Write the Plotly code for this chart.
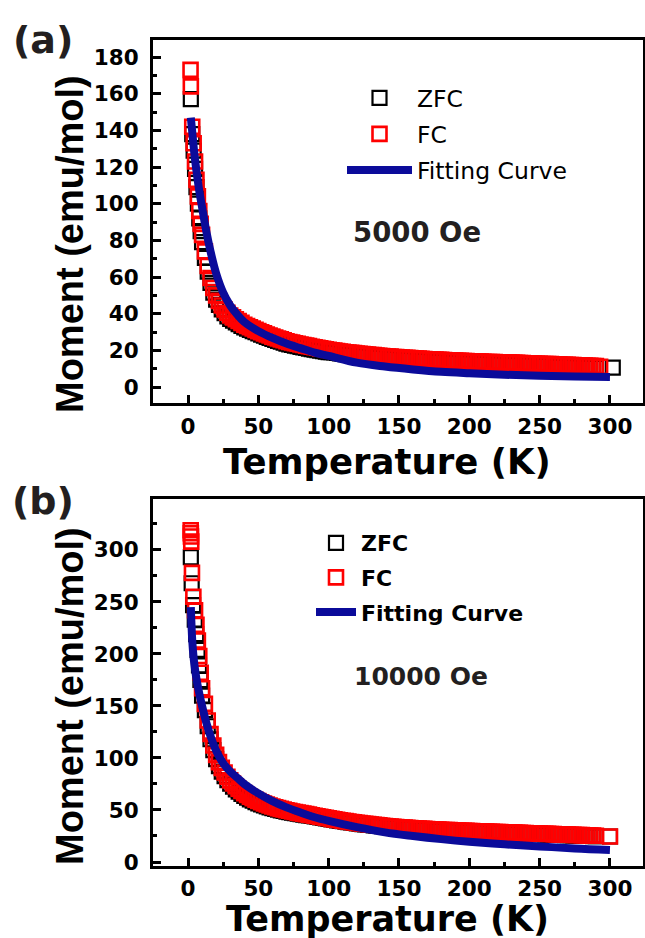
import plotly.graph_objects as go

# ---------------- data ----------------
T_GRID = [12, 14, 16, 18, 20, 22, 24, 26, 28, 30, 32, 34, 36, 38, 40, 42, 44, 46, 48, 50,
          52, 54, 56, 58, 60, 62, 64, 66, 68, 70, 72, 74, 76, 78, 80, 82, 84, 86, 88, 90,
          92, 94, 96, 98, 100, 102, 104, 106, 108, 110, 112, 114, 116, 118, 120, 122, 124, 126, 128, 130,
          132, 134, 136, 138, 140, 142, 144, 146, 148, 150, 152, 154, 156, 158, 160, 162, 164, 166, 168, 170,
          172, 174, 176, 178, 180, 182, 184, 186, 188, 190, 192, 194, 196, 198, 200, 202, 204, 206, 208, 210,
          212, 214, 216, 218, 220, 222, 224, 226, 228, 230, 232, 234, 236, 238, 240, 242, 244, 246, 248, 250,
          252, 254, 256, 258, 260, 262, 264, 266, 268, 270, 272, 274, 276, 278, 280, 282, 284, 286, 288, 290]

# Panel (a): 5000 Oe
ZFC_A_LOW_T = [2, 3, 4, 5, 6, 7, 8, 9, 10]
ZFC_A_LOW = [157, 138, 129, 119, 109, 100, 92, 85, 79]
ZFC_A_GRID = [70.5, 63, 56.8, 51.5, 47.7, 44.8, 42.4, 40.3, 38.6, 37.2,
              36.2, 35.3, 34.3, 33.4, 32.5, 31.9, 31.2, 30.5, 29.9, 29.2,
              28.6, 28, 27.4, 26.8, 26.2, 25.7, 25.2, 24.7, 24.2, 23.7,
              23.3, 23, 22.6, 22.3, 21.9, 21.6, 21.3, 21, 20.7, 20.4,
              20.1, 19.8, 19.6, 19.3, 19.1, 19, 18.9, 18.6, 18.4, 18.2,
              18, 17.8, 17.7, 17.5, 17.3, 17.1, 17, 16.8, 16.7, 16.5,
              16.4, 16.2, 16.1, 15.9, 15.8, 15.7, 15.6, 15.4, 15.3, 15.2,
              15.1, 15, 14.9, 14.8, 14.7, 14.6, 14.5, 14.4, 14.3, 14.2,
              14.1, 14, 14, 13.9, 13.8, 13.7, 13.6, 13.6, 13.5, 13.4,
              13.3, 13.3, 13.2, 13.2, 13.1, 13, 13, 12.9, 12.9, 12.8,
              12.7, 12.7, 12.6, 12.6, 12.5, 12.5, 12.4, 12.4, 12.3, 12.3,
              12.2, 12.2, 12.1, 12.1, 12, 11.9, 11.9, 11.8, 11.7, 11.7,
              11.6, 11.6, 11.5, 11.5, 11.4, 11.3, 11.3, 11.2, 11.1, 11.1,
              11, 11, 10.9, 10.8, 10.8, 10.7, 10.6, 10.6, 10.5, 10.4]
ZFC_A_TAIL_T = [302]
ZFC_A_TAIL = [10.6]

FC_A_LOW_T = [1.8, 2.0, 3, 4, 5, 6, 7, 8, 9, 10]
FC_A_LOW = [173, 164, 142, 133, 123, 113, 104, 96, 89, 83]
FC_A_GRID = [74, 66, 59.5, 54, 50, 47, 44.5, 42.3, 40.5, 39,
             38, 37, 36, 35, 34, 33.3, 32.6, 31.9, 31.2, 30.5,
             29.9, 29.3, 28.7, 28.1, 27.5, 27, 26.5, 26, 25.5, 25,
             24.6, 24.3, 23.9, 23.6, 23.2, 22.9, 22.6, 22.3, 22, 21.7,
             21.4, 21.1, 20.9, 20.6, 20.3, 20.1, 19.9, 19.6, 19.4, 19.2,
             19, 18.8, 18.7, 18.5, 18.3, 18.1, 18, 17.8, 17.7, 17.5,
             17.4, 17.2, 17.1, 16.9, 16.8, 16.7, 16.6, 16.4, 16.3, 16.2,
             16.1, 16, 15.9, 15.8, 15.7, 15.6, 15.5, 15.4, 15.3, 15.2,
             15.1, 15, 15, 14.9, 14.8, 14.7, 14.6, 14.6, 14.5, 14.4,
             14.3, 14.3, 14.2, 14.2, 14.1, 14, 14, 13.9, 13.9, 13.8,
             13.7, 13.7, 13.6, 13.6, 13.5, 13.5, 13.4, 13.4, 13.3, 13.3,
             13.2, 13.2, 13.1, 13.1, 13, 12.9, 12.9, 12.8, 12.7, 12.7,
             12.6, 12.6, 12.5, 12.5, 12.4, 12.3, 12.3, 12.2, 12.1, 12.1,
             12, 12, 11.9, 11.8, 11.8, 11.7, 11.6, 11.6, 11.5, 11.4]
FC_A_TAIL_T = [293]
FC_A_TAIL = [11.1]

FIT_T = [2, 3, 4, 5, 6, 8, 10, 13, 16, 20, 25, 30, 35, 40, 50, 60, 70, 80, 90, 100,
         120, 140, 160, 180, 200, 225, 250, 275, 300]
FIT_A = [147, 139, 131, 124, 118, 107, 98, 85, 74, 62, 51.5, 44.5, 39.5, 35.5, 30.5, 26.8, 23.7, 21.2, 18.8, 17,
         13.3, 11.2, 9.6, 8.3, 7.5, 6.7, 6.2, 5.8, 5.5]

# Panel (b): 10000 Oe
ZFC_B_LOW_T = [2.0, 2.6, 3.6, 4.8, 5.8, 6.8, 7.8, 8.8, 10.0]
ZFC_B_LOW = [293, 268, 247, 233, 219, 204, 189, 175, 160]
ZFC_B_GRID = [146, 130.5, 118, 107.5, 99, 92.2, 86.9, 82.6, 78.7, 75.4,
              72.5, 69.9, 67.6, 65.5, 63.6, 61.9, 60.3, 58.9, 57.6, 56.3,
              55.3, 54.3, 53.4, 52.5, 51.7, 51, 50.3, 49.7, 49.1, 48.5,
              48, 47.4, 46.9, 46.5, 46, 45.6, 45.1, 44.7, 44.3, 43.8,
              43.4, 42.9, 42.5, 42, 41.5, 41, 40.5, 40.1, 39.6, 39.2,
              38.8, 38.4, 38, 37.6, 37.2, 36.9, 36.5, 36.2, 35.9, 35.6,
              35.3, 35, 34.7, 34.4, 34.1, 33.9, 33.6, 33.4, 33.1, 32.9,
              32.7, 32.5, 32.3, 32.1, 31.9, 31.7, 31.6, 31.4, 31.3, 31.1,
              31, 30.8, 30.7, 30.6, 30.4, 30.3, 30.2, 30.1, 29.9, 29.8,
              29.7, 29.6, 29.5, 29.4, 29.3, 29.2, 29.1, 29, 28.9, 28.8,
              28.7, 28.6, 28.5, 28.4, 28.3, 28.2, 28.1, 28, 27.9, 27.8,
              27.7, 27.6, 27.5, 27.4, 27.3, 27.2, 27.1, 27, 26.9, 26.8,
              26.7, 26.6, 26.5, 26.4, 26.3, 26.2, 26.1, 26, 25.9, 25.8,
              25.7, 25.6, 25.5, 25.4, 25.3, 25.2, 25.1, 25, 24.9, 24.8]
ZFC_B_TAIL_T = [300]
ZFC_B_TAIL = [24.5]

FC_B_LOW_T = [1.9, 2.0, 2.1, 2.3, 2.8, 3.8, 5.0, 6.0, 7.0, 8.0, 9.0, 10.0]
FC_B_LOW = [319, 316, 313, 308, 278, 255, 242, 228, 213, 198, 182, 167]
FC_B_GRID = [152, 136, 123, 112, 103, 96, 90.5, 86, 82, 78.5,
             75.5, 72.8, 70.4, 68.2, 66.2, 64.4, 62.8, 61.3, 59.9, 58.6,
             57.4, 56.3, 55.3, 54.3, 53.4, 52.6, 51.8, 51.1, 50.4, 49.8,
             49.2, 48.6, 48, 47.5, 47, 46.5, 46, 45.5, 45, 44.5,
             44, 43.5, 43, 42.5, 42, 41.5, 41, 40.6, 40.1, 39.7,
             39.3, 38.9, 38.5, 38.1, 37.7, 37.4, 37, 36.7, 36.4, 36.1,
             35.8, 35.5, 35.2, 34.9, 34.6, 34.4, 34.1, 33.9, 33.6, 33.4,
             33.2, 33, 32.8, 32.6, 32.4, 32.2, 32.1, 31.9, 31.8, 31.6,
             31.5, 31.3, 31.2, 31.1, 30.9, 30.8, 30.7, 30.6, 30.4, 30.3,
             30.2, 30.1, 30, 29.9, 29.8, 29.7, 29.6, 29.5, 29.4, 29.3,
             29.2, 29.1, 29, 28.9, 28.8, 28.7, 28.6, 28.5, 28.4, 28.3,
             28.2, 28.1, 28, 27.9, 27.8, 27.7, 27.6, 27.5, 27.4, 27.3,
             27.2, 27.1, 27, 26.9, 26.8, 26.7, 26.6, 26.5, 26.4, 26.3,
             26.2, 26.1, 26, 25.9, 25.8, 25.7, 25.6, 25.5, 25.4, 25.3]
FC_B_TAIL_T = [300]
FC_B_TAIL = [24.5]

FIT_B = [245, 213, 196, 185, 176, 162, 150, 134, 121, 107, 95, 87, 81, 75, 66, 58.5, 52.5, 47.5, 43, 39.5,
         33.5, 28.5, 25, 22, 19.5, 17, 15, 13, 11.5]

X_TICKS = [0, 50, 100, 150, 200, 250, 300]
Y_TICKS_A = [0, 20, 40, 60, 80, 100, 120, 140, 160, 180]
Y_TICKS_B = [0, 50, 100, 150, 200, 250, 300, 350]

# ---------------- styling ----------------
W, H = 645, 938
ML, MR, MT, MB = 153, 2, 40, 72
PW, PH = W - ML - MR, H - MT - MB

def px_x(px):
    return (px - ML) / PW

def px_y(py):
    return (H - MB - py) / PH

RED = "#ff0000"
BLACK = "#000000"
BLUE = "#0b0b9a"
TXT = "#231f20"
SANS = "DejaVu Sans"
ARIAL = "Liberation Sans, Arial"

fig = go.Figure()

def add_panel(xa, ya, zt, zv, ft, fv, fit_y, legend, tag):
    fig.add_trace(go.Scatter(x=zt, y=zv, mode="markers", name="ZFC", xaxis=xa, yaxis=ya,
                             legend=legend, legendgroup="zfc" + tag,
                             marker=dict(symbol="square-open", size=14, color=BLACK,
                                         line=dict(width=2.2, color=BLACK))))
    fig.add_trace(go.Scatter(x=ft, y=fv, mode="markers", name="FC", xaxis=xa, yaxis=ya,
                             legend=legend, legendgroup="fc" + tag,
                             marker=dict(symbol="square-open", size=14, color=RED,
                                         line=dict(width=2.6, color=RED))))
    fig.add_trace(go.Scatter(x=FIT_T, y=fit_y, mode="lines", name="Fitting Curve",
                             xaxis=xa, yaxis=ya, legend=legend, legendgroup="fit" + tag,
                             line=dict(color=BLUE, width=8, shape="spline")))

add_panel("x", "y",
          ZFC_A_LOW_T + T_GRID + ZFC_A_TAIL_T, ZFC_A_LOW + ZFC_A_GRID + ZFC_A_TAIL,
          FC_A_LOW_T + T_GRID + FC_A_TAIL_T, FC_A_LOW + FC_A_GRID + FC_A_TAIL,
          FIT_A, "legend", "a")
add_panel("x2", "y2",
          ZFC_B_LOW_T + T_GRID + ZFC_B_TAIL_T, ZFC_B_LOW + ZFC_B_GRID + ZFC_B_TAIL,
          FC_B_LOW_T + T_GRID + FC_B_TAIL_T, FC_B_LOW + FC_B_GRID + FC_B_TAIL,
          FIT_B, "legend2", "b")

tickfont = dict(family=SANS, size=21.5, color="black", weight="bold")
common = dict(showline=True, linecolor="black", linewidth=3, mirror=True,
              ticks="inside", ticklen=8, tickwidth=2.5, tickcolor="black",
              showgrid=False, zeroline=False, tickfont=tickfont)

xr = [-24.9, 323.5]
minor_x = dict(dtick=25, tick0=0, ticks="inside", ticklen=4, tickwidth=2.5, tickcolor="black")
fig.update_layout(
    xaxis=dict(domain=[0, 1], anchor="y", range=xr, tickvals=X_TICKS, minor=minor_x,
               ticklabelstandoff=2, **common),
    yaxis=dict(domain=[px_y(403), 1], anchor="x", range=[-8.7, 189.3], tickvals=Y_TICKS_A,
               minor=dict(dtick=10, tick0=0, ticks="inside", ticklen=4, tickwidth=2.5, tickcolor="black"),
               ticklabelstandoff=7, **common),
    xaxis2=dict(domain=[0, 1], anchor="y2", range=xr, tickvals=X_TICKS, minor=minor_x,
                ticklabelstandoff=1, **common),
    yaxis2=dict(domain=[0, px_y(499)], anchor="x2", range=[-3.85, 349], tickvals=Y_TICKS_B,
                minor=dict(dtick=25, tick0=0, ticks="inside", ticklen=4, tickwidth=2.5, tickcolor="black"),
                ticklabelstandoff=7, **common),
    width=W, height=H,
    margin=dict(l=ML, r=MR, t=MT, b=MB, autoexpand=False),
    paper_bgcolor="white", plot_bgcolor="white",
    showlegend=True,
    legend=dict(x=px_x(342), y=px_y(76), xanchor="left", yanchor="top",
                bgcolor="rgba(0,0,0,0)", borderwidth=0, itemwidth=65,
                font=dict(family=SANS, size=23.5, color="black"), tracegroupgap=2.5),
    legend2=dict(x=px_x(311), y=px_y(522), xanchor="left", yanchor="top",
                 bgcolor="rgba(0,0,0,0)", borderwidth=0, itemwidth=40,
                 font=dict(family=SANS, size=22, color="black", weight="bold"), tracegroupgap=3),
)

def ann(text, x, y, size, family=SANS, angle=0, color="black", weight="bold"):
    fig.add_annotation(text=text, x=px_x(x), y=px_y(y), xref="paper", yref="paper",
                       xanchor="center", yanchor="middle", showarrow=False, textangle=angle,
                       font=dict(family=family, size=size, color=color, weight=weight))

ann("Temperature (K)", 387, 461, 35.5)
ann("Temperature (K)", 387, 919, 35)
ann("Moment (emu/mol)", 70, 244, 38, family=ARIAL, angle=-90)
ann("Moment (emu/mol)", 70, 696, 38, family=ARIAL, angle=-90)
ann("(a)", 43, 40, 38, color=TXT)
ann("(b)", 43, 501, 38, color=TXT)
ann("5000 Oe", 417, 232, 27.5, color=TXT)
ann("10000 Oe", 421, 676, 25, color=TXT)

# the page body has a default 8px margin; remove it so the figure fills the window exactly
fig.write_html("out.html", config={"displayModeBar": False},
               post_script="document.body.style.margin='0';")
